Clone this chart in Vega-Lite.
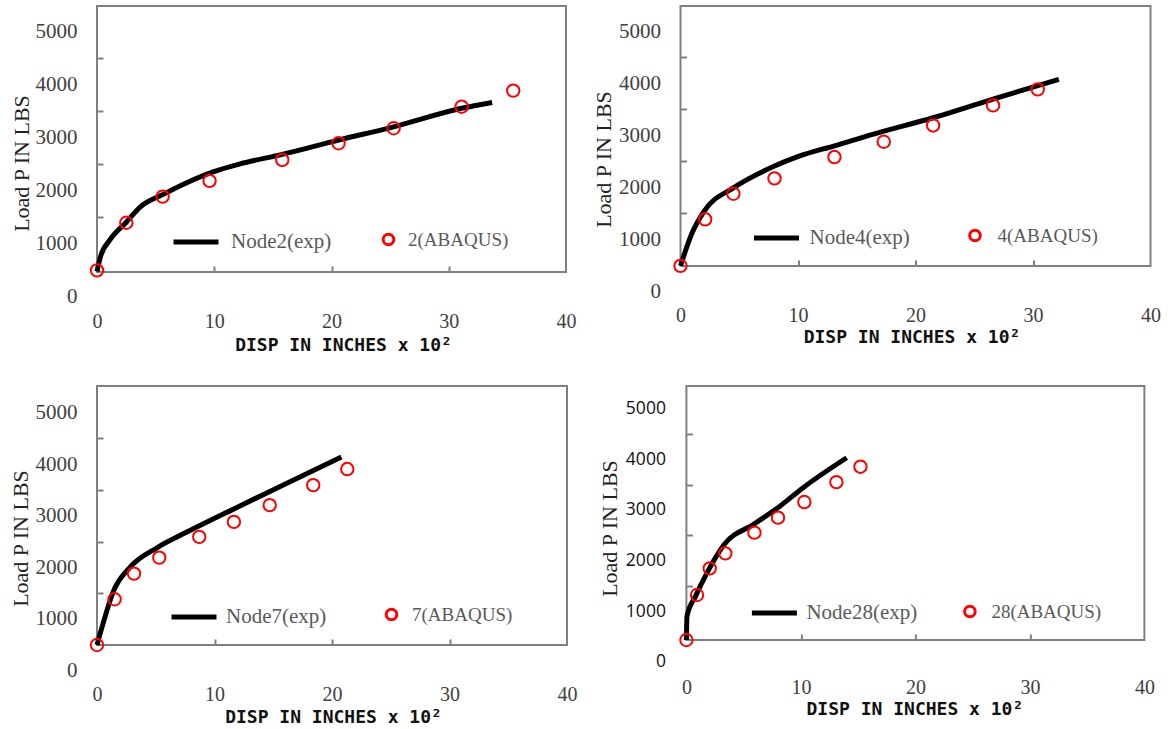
{
  "$schema": "https://vega.github.io/schema/vega-lite/v6.json",
  "background": "white",
  "padding": {"left": 8, "top": 5, "right": 5, "bottom": 5},
  "config": {
    "view": {"stroke": "#808080", "strokeWidth": 2},
    "axis": {"grid": false, "domain": false, "labelOverlap": false, "labelFlush": false, "format": "d"}
  },
  "datasets": {
    "p1line": [
      {"series": "Node2(exp)", "disp": 0, "load": 480},
      {"series": "Node2(exp)", "disp": 0.3, "load": 760},
      {"series": "Node2(exp)", "disp": 1.1, "load": 1075},
      {"series": "Node2(exp)", "disp": 2.5, "load": 1410},
      {"series": "Node2(exp)", "disp": 3.7, "load": 1700},
      {"series": "Node2(exp)", "disp": 5.6, "load": 1930},
      {"series": "Node2(exp)", "disp": 7.7, "load": 2160},
      {"series": "Node2(exp)", "disp": 9.9, "load": 2360},
      {"series": "Node2(exp)", "disp": 12.2, "load": 2510},
      {"series": "Node2(exp)", "disp": 15.8, "load": 2690},
      {"series": "Node2(exp)", "disp": 20.6, "load": 2960},
      {"series": "Node2(exp)", "disp": 25.3, "load": 3210},
      {"series": "Node2(exp)", "disp": 31.1, "load": 3560},
      {"series": "Node2(exp)", "disp": 33.7, "load": 3670}
    ],
    "p1pts": [
      {"series": "2(ABAQUS)", "disp": 0, "load": 500},
      {"series": "2(ABAQUS)", "disp": 2.5, "load": 1400},
      {"series": "2(ABAQUS)", "disp": 5.6, "load": 1893},
      {"series": "2(ABAQUS)", "disp": 9.6, "load": 2190},
      {"series": "2(ABAQUS)", "disp": 15.8, "load": 2585},
      {"series": "2(ABAQUS)", "disp": 20.6, "load": 2900},
      {"series": "2(ABAQUS)", "disp": 25.3, "load": 3183},
      {"series": "2(ABAQUS)", "disp": 31.1, "load": 3590},
      {"series": "2(ABAQUS)", "disp": 35.5, "load": 3893}
    ],
    "p2line": [
      {"series": "Node4(exp)", "disp": 0, "load": 490},
      {"series": "Node4(exp)", "disp": 1.0, "load": 1130},
      {"series": "Node4(exp)", "disp": 2.0, "load": 1540},
      {"series": "Node4(exp)", "disp": 4.5, "load": 1990},
      {"series": "Node4(exp)", "disp": 8.0, "load": 2410},
      {"series": "Node4(exp)", "disp": 10.1, "load": 2600},
      {"series": "Node4(exp)", "disp": 13.1, "load": 2800},
      {"series": "Node4(exp)", "disp": 16.5, "load": 3030},
      {"series": "Node4(exp)", "disp": 21.5, "load": 3340},
      {"series": "Node4(exp)", "disp": 26.6, "load": 3700},
      {"series": "Node4(exp)", "disp": 32.2, "load": 4080}
    ],
    "p2pts": [
      {"series": "4(ABAQUS)", "disp": 0, "load": 490},
      {"series": "4(ABAQUS)", "disp": 2.1, "load": 1385},
      {"series": "4(ABAQUS)", "disp": 4.5, "load": 1878},
      {"series": "4(ABAQUS)", "disp": 8.0, "load": 2173},
      {"series": "4(ABAQUS)", "disp": 13.1, "load": 2583},
      {"series": "4(ABAQUS)", "disp": 17.3, "load": 2878},
      {"series": "4(ABAQUS)", "disp": 21.5, "load": 3192},
      {"series": "4(ABAQUS)", "disp": 26.6, "load": 3577},
      {"series": "4(ABAQUS)", "disp": 30.4, "load": 3885}
    ],
    "p3line": [
      {"series": "Node7(exp)", "disp": 0, "load": 495},
      {"series": "Node7(exp)", "disp": 0.5, "load": 900},
      {"series": "Node7(exp)", "disp": 1.4, "load": 1540},
      {"series": "Node7(exp)", "disp": 2.8, "load": 2000},
      {"series": "Node7(exp)", "disp": 5.1, "load": 2380},
      {"series": "Node7(exp)", "disp": 7.6, "load": 2680},
      {"series": "Node7(exp)", "disp": 11.6, "load": 3130},
      {"series": "Node7(exp)", "disp": 15.5, "load": 3560},
      {"series": "Node7(exp)", "disp": 20.8, "load": 4140}
    ],
    "p3pts": [
      {"series": "7(ABAQUS)", "disp": 0, "load": 495},
      {"series": "7(ABAQUS)", "disp": 1.5, "load": 1382},
      {"series": "7(ABAQUS)", "disp": 3.15, "load": 1880},
      {"series": "7(ABAQUS)", "disp": 5.3, "load": 2190},
      {"series": "7(ABAQUS)", "disp": 8.7, "load": 2592},
      {"series": "7(ABAQUS)", "disp": 11.65, "load": 2883},
      {"series": "7(ABAQUS)", "disp": 14.7, "load": 3208},
      {"series": "7(ABAQUS)", "disp": 18.4, "load": 3596},
      {"series": "7(ABAQUS)", "disp": 21.3, "load": 3907}
    ],
    "p4line": [
      {"series": "Node28(exp)", "disp": 0, "load": 434},
      {"series": "Node28(exp)", "disp": 0.05, "load": 900},
      {"series": "Node28(exp)", "disp": 0.8, "load": 1300},
      {"series": "Node28(exp)", "disp": 1.8, "load": 1760},
      {"series": "Node28(exp)", "disp": 3.3, "load": 2320},
      {"series": "Node28(exp)", "disp": 5.9, "load": 2720},
      {"series": "Node28(exp)", "disp": 8.2, "load": 3080},
      {"series": "Node28(exp)", "disp": 10.2, "load": 3440},
      {"series": "Node28(exp)", "disp": 14.0, "load": 4030}
    ],
    "p4pts": [
      {"series": "28(ABAQUS)", "disp": 0, "load": 434},
      {"series": "28(ABAQUS)", "disp": 0.93, "load": 1322},
      {"series": "28(ABAQUS)", "disp": 2.04, "load": 1848},
      {"series": "28(ABAQUS)", "disp": 3.4, "load": 2144},
      {"series": "28(ABAQUS)", "disp": 5.94, "load": 2552},
      {"series": "28(ABAQUS)", "disp": 8.0, "load": 2848},
      {"series": "28(ABAQUS)", "disp": 10.3, "load": 3156},
      {"series": "28(ABAQUS)", "disp": 13.1, "load": 3550},
      {"series": "28(ABAQUS)", "disp": 15.2, "load": 3854}
    ]
  },
  "spacing": 30,
  "resolve": {"scale": {"color": "independent", "stroke": "independent"}},
  "vconcat": [
    {
      "bounds": "flush",
      "spacing": 114.5,
      "resolve": {"scale": {"color": "independent", "stroke": "independent"}},
      "hconcat": [
        {
          "width": 469, "height": 266,
          "encoding": {
            "x": {"field": "disp", "type": "quantitative", "scale": {"domain": [0, 40], "nice": false, "zero": false},
              "axis": {"values": [0, 10, 20, 30, 40],
                "tickOpacity": {"condition": {"test": "datum.value === 0 || datum.value === 40", "value": 0}, "value": 1},
                "tickSize": -6, "tickWidth": 2, "tickColor": "#808080",
                "labelPadding": 45, "labelFont": "Liberation Serif", "labelFontSize": 20, "labelColor": "#404040",
                "title": "DISP IN INCHES x 10²", "titleFont": "DejaVu Sans Mono", "titleFontSize": 18, "titleFontWeight": "bold", "titleColor": "#111111",
                "titleX": 246, "titleY": 78, "titleAlign": "center", "titleBaseline": "alphabetic"}},
            "y": {"field": "load", "type": "quantitative", "scale": {"domain": [470, 5490], "nice": false, "zero": false},
              "axis": {"values": [500, 1000, 1500, 2000, 2500, 3000, 3500, 4000, 4500, 5000],
                "labelExpr": "datum.value === 500 ? '0' : (datum.value % 1000 === 0 ? datum.label : '')",
                "labelOffset": {"condition": {"test": "datum.value === 500", "value": 26.5}, "value": 0},
                "tickOpacity": {"condition": {"test": "datum.value % 1000 === 0 || datum.value === 500", "value": 0}, "value": 1},
                "tickSize": -6, "tickWidth": 2, "tickColor": "#808080",
                "labelPadding": 26, "labelFont": "Liberation Serif", "labelFontSize": 21, "labelColor": "#404040",
                "title": "Load P IN LBS", "titleFont": "Liberation Serif", "titleFontSize": 22, "titleFontWeight": "normal", "titleColor": "#222222",
                "titleX": -69, "titleY": 157, "titleAngle": -90, "titleAlign": "center", "titleBaseline": "alphabetic"}}
          },
          "layer": [
            {"data": {"name": "p1line"},
              "mark": {"type": "line", "strokeWidth": 5, "interpolate": "monotone"},
              "encoding": {"stroke": {"field": "series", "type": "nominal", "scale": {"range": ["#000000"]},
                "legend": {"orient": "none", "legendX": 74, "legendY": 211, "title": null, "padding": 0, "symbolType": "stroke", "symbolSize": 2025, "symbolStrokeWidth": 5, "labelFont": "Liberation Serif", "labelFontSize": 21, "labelColor": "#595959", "labelOffset": 10}}}},
            {"data": {"name": "p1pts"},
              "mark": {"type": "point", "filled": false, "size": 154, "strokeWidth": 2, "opacity": 1},
              "encoding": {"color": {"field": "series", "type": "nominal", "scale": {"range": ["#ff0000"]},
                "legend": {"orient": "none", "legendX": 282, "legendY": 224, "title": null, "padding": 0, "symbolType": "circle", "symbolSize": 113, "symbolStrokeWidth": 3, "labelFont": "Liberation Serif", "labelFontSize": 19, "labelColor": "#595959", "labelOffset": 10}}}}
          ]
        },
        {
          "width": 470, "height": 260,
          "encoding": {
            "x": {"field": "disp", "type": "quantitative", "scale": {"domain": [0, 40], "nice": false, "zero": false},
              "axis": {"values": [0, 10, 20, 30, 40],
                "tickOpacity": {"condition": {"test": "datum.value === 0 || datum.value === 40", "value": 0}, "value": 1},
                "tickSize": -6, "tickWidth": 2, "tickColor": "#808080",
                "labelPadding": 45, "labelFont": "Liberation Serif", "labelFontSize": 20, "labelColor": "#404040",
                "title": "DISP IN INCHES x 10²", "titleFont": "DejaVu Sans Mono", "titleFontSize": 18, "titleFontWeight": "bold", "titleColor": "#111111",
                "titleX": 231, "titleY": 76, "titleAlign": "center", "titleBaseline": "alphabetic"}},
            "y": {"field": "load", "type": "quantitative", "scale": {"domain": [487, 5490], "nice": false, "zero": false},
              "axis": {"values": [500, 1000, 1500, 2000, 2500, 3000, 3500, 4000, 4500, 5000],
                "labelExpr": "datum.value === 500 ? '0' : (datum.value % 1000 === 0 ? datum.label : '')",
                "labelOffset": {"condition": {"test": "datum.value === 500", "value": 26}, "value": 0},
                "tickOpacity": {"condition": {"test": "datum.value % 1000 === 0 || datum.value === 500", "value": 0}, "value": 1},
                "tickSize": -6, "tickWidth": 2, "tickColor": "#808080",
                "labelPadding": 26, "labelFont": "Liberation Serif", "labelFontSize": 21, "labelColor": "#404040",
                "title": "Load P IN LBS", "titleFont": "Liberation Serif", "titleFontSize": 22, "titleFontWeight": "normal", "titleColor": "#222222",
                "titleX": -70, "titleY": 153, "titleAngle": -90, "titleAlign": "center", "titleBaseline": "alphabetic"}}
          },
          "layer": [
            {"data": {"name": "p2line"},
              "mark": {"type": "line", "strokeWidth": 5, "interpolate": "monotone"},
              "encoding": {"stroke": {"field": "series", "type": "nominal", "scale": {"range": ["#000000"]},
                "legend": {"orient": "none", "legendX": 71, "legendY": 207, "title": null, "padding": 0, "symbolType": "stroke", "symbolSize": 2025, "symbolStrokeWidth": 5, "labelFont": "Liberation Serif", "labelFontSize": 21, "labelColor": "#595959", "labelOffset": 8}}}},
            {"data": {"name": "p2pts"},
              "mark": {"type": "point", "filled": false, "size": 154, "strokeWidth": 2, "opacity": 1},
              "encoding": {"color": {"field": "series", "type": "nominal", "scale": {"range": ["#ff0000"]},
                "legend": {"orient": "none", "legendX": 285, "legendY": 220, "title": null, "padding": 0, "symbolType": "circle", "symbolSize": 113, "symbolStrokeWidth": 3, "labelFont": "Liberation Serif", "labelFontSize": 19, "labelColor": "#595959", "labelOffset": 13}}}}
          ]
        }
      ]
    },
    {
      "bounds": "flush",
      "spacing": 119.4,
      "resolve": {"scale": {"color": "independent", "stroke": "independent"}},
      "hconcat": [
        {
          "width": 470, "height": 259,
          "encoding": {
            "x": {"field": "disp", "type": "quantitative", "scale": {"domain": [0, 40], "nice": false, "zero": false},
              "axis": {"values": [0, 10, 20, 30, 40],
                "tickOpacity": {"condition": {"test": "datum.value === 0 || datum.value === 40", "value": 0}, "value": 1},
                "tickSize": -6, "tickWidth": 2, "tickColor": "#808080",
                "labelPadding": 45, "labelFont": "Liberation Serif", "labelFontSize": 20, "labelColor": "#404040",
                "title": "DISP IN INCHES x 10²", "titleFont": "DejaVu Sans Mono", "titleFontSize": 18, "titleFontWeight": "bold", "titleColor": "#111111",
                "titleX": 236, "titleY": 77, "titleAlign": "center", "titleBaseline": "alphabetic"}},
            "y": {"field": "load", "type": "quantitative", "scale": {"domain": [495, 5518], "nice": false, "zero": false},
              "axis": {"values": [500, 1000, 1500, 2000, 2500, 3000, 3500, 4000, 4500, 5000],
                "labelExpr": "datum.value === 500 ? '0' : (datum.value % 1000 === 0 ? datum.label : '')",
                "labelOffset": {"condition": {"test": "datum.value === 500", "value": 25.8}, "value": 0},
                "tickOpacity": {"condition": {"test": "datum.value % 1000 === 0 || datum.value === 500", "value": 0}, "value": 1},
                "tickSize": -6, "tickWidth": 2, "tickColor": "#808080",
                "labelPadding": 26, "labelFont": "Liberation Serif", "labelFontSize": 21, "labelColor": "#404040",
                "title": "Load P IN LBS", "titleFont": "Liberation Serif", "titleFontSize": 22, "titleFontWeight": "normal", "titleColor": "#222222",
                "titleX": -70, "titleY": 152, "titleAngle": -90, "titleAlign": "center", "titleBaseline": "alphabetic"}}
          },
          "layer": [
            {"data": {"name": "p3line"},
              "mark": {"type": "line", "strokeWidth": 5, "interpolate": "monotone"},
              "encoding": {"stroke": {"field": "series", "type": "nominal", "scale": {"range": ["#000000"]},
                "legend": {"orient": "none", "legendX": 72, "legendY": 206, "title": null, "padding": 0, "symbolType": "stroke", "symbolSize": 2025, "symbolStrokeWidth": 5, "labelFont": "Liberation Serif", "labelFontSize": 21, "labelColor": "#595959", "labelOffset": 7}}}},
            {"data": {"name": "p3pts"},
              "mark": {"type": "point", "filled": false, "size": 154, "strokeWidth": 2, "opacity": 1},
              "encoding": {"color": {"field": "series", "type": "nominal", "scale": {"range": ["#ff0000"]},
                "legend": {"orient": "none", "legendX": 285, "legendY": 219, "title": null, "padding": 0, "symbolType": "circle", "symbolSize": 113, "symbolStrokeWidth": 3, "labelFont": "Liberation Serif", "labelFontSize": 19, "labelColor": "#595959", "labelOffset": 11}}}}
          ]
        },
        {
          "width": 458, "height": 254,
          "encoding": {
            "x": {"field": "disp", "type": "quantitative", "scale": {"domain": [0, 40], "nice": false, "zero": false},
              "axis": {"values": [0, 10, 20, 30, 40],
                "tickOpacity": {"condition": {"test": "datum.value === 0 || datum.value === 40", "value": 0}, "value": 1},
                "tickSize": -6, "tickWidth": 2, "tickColor": "#808080",
                "labelPadding": 43, "labelFont": "Liberation Serif", "labelFontSize": 20, "labelColor": "#404040",
                "title": "DISP IN INCHES x 10²", "titleFont": "DejaVu Sans Mono", "titleFontSize": 18, "titleFontWeight": "bold", "titleColor": "#111111",
                "titleX": 228, "titleY": 74, "titleAlign": "center", "titleBaseline": "alphabetic"}},
            "y": {"field": "load", "type": "quantitative", "scale": {"domain": [434, 5446], "nice": false, "zero": false},
              "axis": {"values": [500, 1000, 1500, 2000, 2500, 3000, 3500, 4000, 4500, 5000],
                "labelExpr": "datum.value === 500 ? '0' : (datum.value % 1000 === 0 ? datum.label : '')",
                "labelOffset": {"condition": {"test": "datum.value === 500", "value": 25.3}, "value": 0},
                "tickOpacity": {"condition": {"test": "datum.value % 1000 === 0 || datum.value === 500", "value": 0}, "value": 1},
                "tickSize": -6, "tickWidth": 2, "tickColor": "#808080",
                "labelPadding": 27, "labelFont": "Open Sans", "labelFontSize": 17.5, "labelColor": "#111111",
                "title": "Load P IN LBS", "titleFont": "Liberation Serif", "titleFontSize": 22, "titleFontWeight": "normal", "titleColor": "#222222",
                "titleX": -70, "titleY": 142, "titleAngle": -90, "titleAlign": "center", "titleBaseline": "alphabetic"}}
          },
          "layer": [
            {"data": {"name": "p4line"},
              "mark": {"type": "line", "strokeWidth": 5, "interpolate": "monotone"},
              "encoding": {"stroke": {"field": "series", "type": "nominal", "scale": {"range": ["#000000"]},
                "legend": {"orient": "none", "legendX": 63, "legendY": 202, "title": null, "padding": 0, "symbolType": "stroke", "symbolSize": 2025, "symbolStrokeWidth": 5, "labelFont": "Liberation Serif", "labelFontSize": 21, "labelColor": "#595959", "labelOffset": 7}}}},
            {"data": {"name": "p4pts"},
              "mark": {"type": "point", "filled": false, "size": 154, "strokeWidth": 2, "opacity": 1},
              "encoding": {"color": {"field": "series", "type": "nominal", "scale": {"range": ["#ff0000"]},
                "legend": {"orient": "none", "legendX": 274, "legendY": 216, "title": null, "padding": 0, "symbolType": "circle", "symbolSize": 113, "symbolStrokeWidth": 3, "labelFont": "Liberation Serif", "labelFontSize": 19, "labelColor": "#595959", "labelOffset": 12}}}}
          ]
        }
      ]
    }
  ]
}
